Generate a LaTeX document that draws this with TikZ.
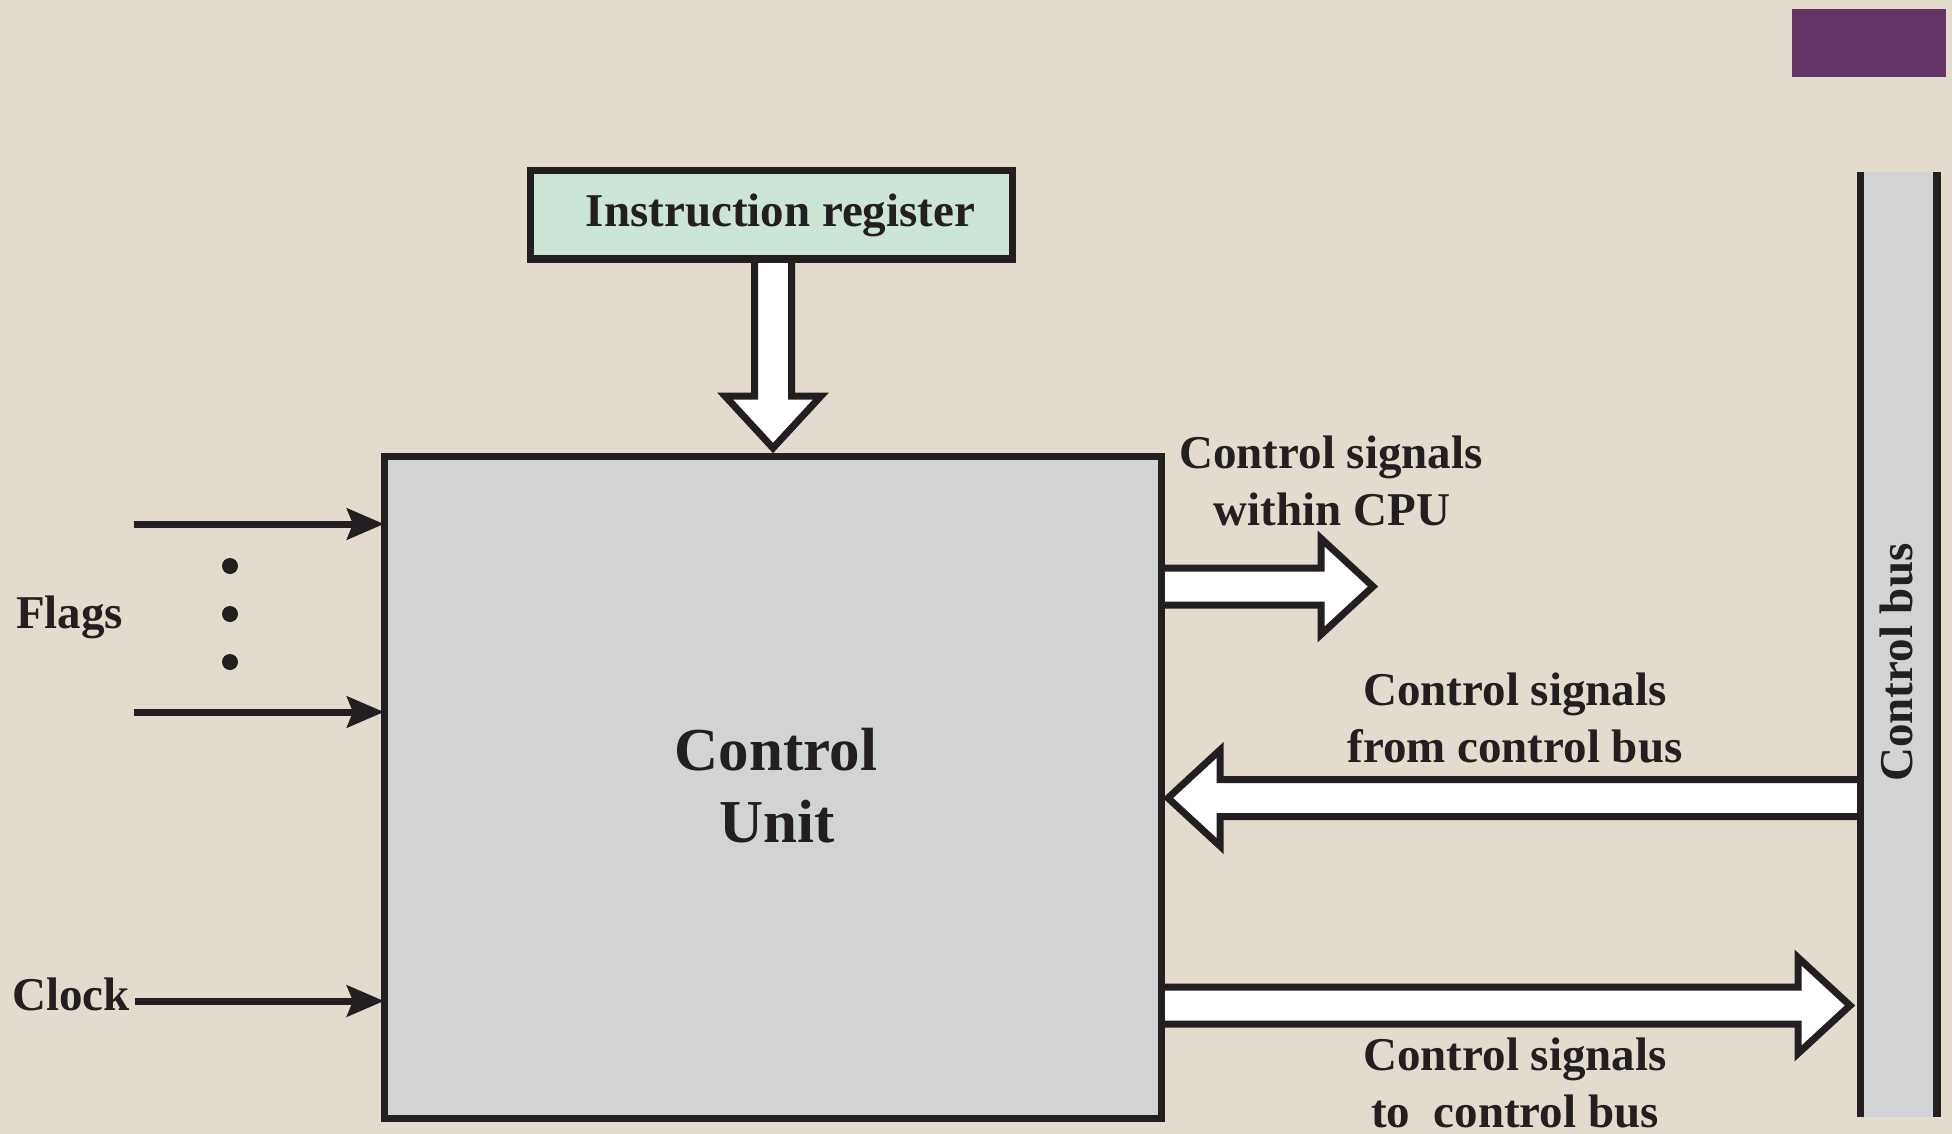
\documentclass[tikz,border=0pt]{standalone}
\usepackage{fontspec}
\setmainfont{Liberation Serif}
\usetikzlibrary{arrows.meta,calc}

\definecolor{paper}{RGB}{226,219,206}
\definecolor{ink}{RGB}{35,31,32}
\definecolor{regfill}{RGB}{204,229,214}
\definecolor{unitfill}{RGB}{209,211,212}
\definecolor{tabpurple}{RGB}{102,51,102}

\tikzset{
  unitbox/.style={draw=ink, line width=7pt, inner sep=0pt, outer sep=0pt},
  lbl/.style={font=\bfseries\fontsize{47}{56}\selectfont, text=ink, inner sep=0pt},
  biglbl/.style={font=\bfseries\fontsize{61}{72}\selectfont, text=ink, inner sep=0pt},
  thinarrow/.style={draw=ink, line width=7pt, -{Stealth[length=37pt,width=31pt,inset=6pt]}},
  widearrow/.style={draw=ink, fill=white, line width=7pt, line join=miter},
  busline/.style={draw=ink, line width=7.5pt},
  dotmark/.style={circle, fill=ink, inner sep=0pt, minimum size=16pt},
}

% hollow block arrow: tail point, direction (degrees), length up to the tip
\newcommand\hollowarrow[3]{%
  \begin{scope}[shift={#1}, rotate=#2]
    \filldraw[widearrow] (0,18.5) -- (#3-52,18.5) -- (#3-52,48) -- (#3,0)
      -- (#3-52,-48) -- (#3-52,-18.5) -- (0,-18.5);
  \end{scope}}

\begin{document}
\begin{tikzpicture}[x=1pt, y=-1pt]
  % page
  \fill[paper] (0,0) rectangle (1952,1134);
  \useasboundingbox (0,0) rectangle (1952,1134);

  % corner tab
  \fill[tabpurple] (1792,9) rectangle (1946,77);

  % control bus (fill first, border lines after the arrows)
  \node[fill=unitfill, inner sep=0pt, outer sep=0pt,
        minimum width=76.5pt, minimum height=945pt] (bus) at (1898.75,644.5) {};

  % end points of the wide arrows
  \coordinate (cpuTail) at (1161,586.5);
  \coordinate (fromTail) at (1860.5,798);
  \coordinate (toTail) at (1161,1005.5);

  % wide arrows
  \hollowarrow{(773,259)}{-90}{189}
  \hollowarrow{(cpuTail)}{0}{212}
  \hollowarrow{(fromTail)}{180}{692.5}
  \hollowarrow{(toTail)}{0}{689}

  \draw[busline] (bus.north west) -- (bus.south west);
  \draw[busline] (bus.north east) -- (bus.south east);
  \node[lbl, rotate=90] (bustext) at (1896,662.5) {Control bus};

  % control unit
  \node[unitbox, fill=unitfill, minimum width=777pt, minimum height=662pt] (cu) at (772.5,787) {};
  \node[biglbl, anchor=base] (cuA) at (776,770) {Control};
  \node[biglbl, anchor=base] (cuB) at (777,842) {Unit};

  % instruction register
  \node[unitbox, fill=regfill, minimum width=482pt, minimum height=88pt] (ir) at (771,215) {};
  \node[lbl, anchor=base] (irtext) at (780.5,226) {Instruction register};

  % flag and clock inputs
  \coordinate (flagA) at (134,524);
  \coordinate (flagB) at (134,712);
  \coordinate (clk) at (135,1001);
  \draw[thinarrow] (flagA) -- (cu.west |- flagA);
  \draw[thinarrow] (flagB) -- (cu.west |- flagB);
  \draw[thinarrow] (clk) -- (cu.west |- clk);
  \node[dotmark] (d1) at (230,566) {};
  \node[dotmark] (d2) at (230,614) {};
  \node[dotmark] (d3) at (230,662) {};
  \node[lbl, anchor=base west] (flags) at (16,628) {Flags};
  \node[lbl, anchor=base west] (clock) at (12,1010) {Clock};

  % signal labels
  \node[lbl, anchor=base] (cpuA) at (1331,468) {Control signals};
  \node[lbl, anchor=base] (cpuB) at (1332,525) {within CPU};
  \node[lbl, anchor=base] (fromA) at (1515,705) {Control signals};
  \node[lbl, anchor=base] (fromB) at (1515,762) {from control bus};
  \node[lbl, anchor=base] (toA) at (1515,1070) {Control signals};
  \node[lbl, anchor=base] (toB) at (1515,1127) {to~ control bus};
\end{tikzpicture}
\end{document}
